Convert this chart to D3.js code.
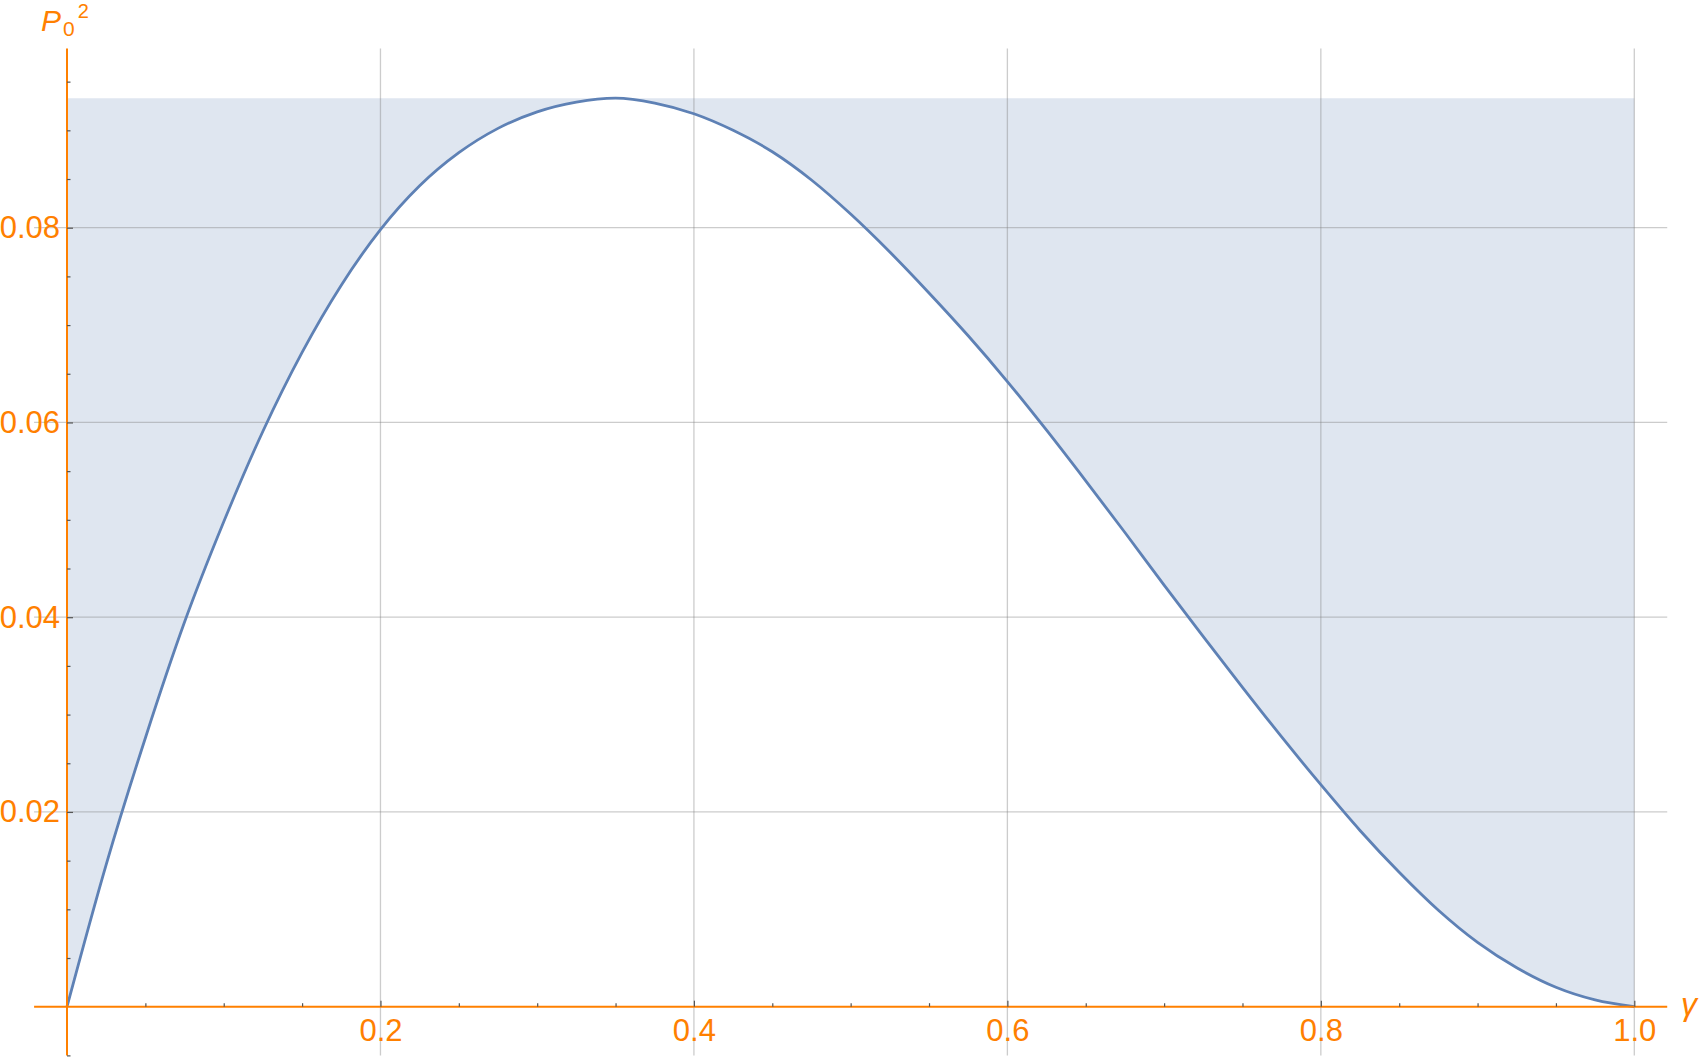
<!DOCTYPE html>
<html>
<head>
<meta charset="utf-8">
<script src="https://cdn.jsdelivr.net/npm/d3@7"></script>
<style>
  body { margin: 0; background: #fff; }
  svg { display: block; }
</style>
</head>
<body>
<script>
// Data
//////////////////////////////////////////////////////////////////////
var gamma = [0, 0.025, 0.05, 0.075, 0.1, 0.125, 0.15, 0.175, 0.2, 0.225,
  0.25, 0.275, 0.3, 0.325, 0.35, 0.375, 0.4, 0.425, 0.45, 0.475,
  0.5, 0.525, 0.55, 0.575, 0.6, 0.625, 0.65, 0.675, 0.7, 0.725,
  0.75, 0.775, 0.8, 0.825, 0.85, 0.875, 0.9, 0.925, 0.95, 0.975, 1.0];
var p0sq = [0, 0.0146, 0.0276, 0.0395, 0.0498, 0.0591, 0.0672, 0.0741, 0.0798, 0.0843,
  0.0877, 0.0902, 0.0919, 0.0929, 0.0933, 0.0928, 0.0917, 0.0900, 0.0878, 0.0849,
  0.0814, 0.0775, 0.0733, 0.0689, 0.0642, 0.0592, 0.0540, 0.0487, 0.0433, 0.0380,
  0.0328, 0.0277, 0.0228, 0.0181, 0.0138, 0.0099, 0.0066, 0.0040, 0.0020, 0.0007, 0];
var xTicks = [0.2, 0.4, 0.6, 0.8, 1.0];
var xTickLabels = ["0.2", "0.4", "0.6", "0.8", "1.0"];
var yTicks = [0.02, 0.04, 0.06, 0.08];
var yTickLabels = ["0.02", "0.04", "0.06", "0.08"];

// Variables
//////////////////////////////////////////////////////////////////////
var width = 1700, height = 1059;
var orange = "#ff8000";
var lineColor = "#5e81b5";
var tickColor = "#555";
var fontFamily = "'Liberation Sans', Arial, sans-serif";
var labelSize = 31;

var x = d3.scaleLinear().domain([0, 1]).range([67, 1634.3]);
var y = d3.scaleLinear().domain([0, 0.08]).range([1006.7, 227.7]);

var xExtent = [-0.021, 1.021];
var yExtent = [-0.005, 0.0984];
var xMinor = d3.range(0.05, 1.001, 0.05).filter(t => Math.abs(t / 0.2 - Math.round(t / 0.2)) > 1e-6);
var yMinor = d3.range(-0.005, 0.0951, 0.005).filter(t => Math.abs(t / 0.02 - Math.round(t / 0.02)) > 1e-6);

var points = gamma.map((g, i) => [g, p0sq[i]]);
var yMax = d3.max(p0sq);

// Draw
//////////////////////////////////////////////////////////////////////
var svg = d3.select("body").append("svg")
  .attr("width", width)
  .attr("height", height)
  .attr("font-family", fontFamily);

// filling between curve and top of the plot range
var area = d3.area()
  .curve(d3.curveMonotoneX)
  .x(d => x(d[0]))
  .y0(y(yMax))
  .y1(d => y(d[1]));

svg.append("path")
  .datum(points)
  .attr("fill", lineColor)
  .attr("fill-opacity", 0.2)
  .attr("d", area);

// grid
var grid = svg.append("g")
  .attr("stroke", "#808080")
  .attr("stroke-opacity", 0.4)
  .attr("stroke-width", 1.3);

grid.selectAll(".gx")
  .data(xTicks)
  .join("line")
  .attr("x1", d => x(d)).attr("x2", d => x(d))
  .attr("y1", y(yExtent[1])).attr("y2", y(yExtent[0]));

grid.selectAll(".gy")
  .data(yTicks)
  .join("line")
  .attr("y1", d => y(d)).attr("y2", d => y(d))
  .attr("x1", x(xExtent[0])).attr("x2", x(xExtent[1]));

// curve
var line = d3.line()
  .curve(d3.curveMonotoneX)
  .x(d => x(d[0]))
  .y(d => y(d[1]));

svg.append("path")
  .datum(points)
  .attr("fill", "none")
  .attr("stroke", lineColor)
  .attr("stroke-width", 2.8)
  .attr("stroke-linejoin", "round")
  .attr("d", line);

// axes lines
svg.append("line")
  .attr("x1", x(xExtent[0])).attr("x2", x(xExtent[1]))
  .attr("y1", y(0)).attr("y2", y(0))
  .attr("stroke", orange).attr("stroke-width", 2);

svg.append("line")
  .attr("x1", x(0)).attr("x2", x(0))
  .attr("y1", y(yExtent[0])).attr("y2", y(yExtent[1]))
  .attr("stroke", orange).attr("stroke-width", 2);

// ticks (inside) + labels (outside)
var xAxis = svg.append("g")
  .attr("transform", `translate(0,${y(0)})`)
  .call(d3.axisBottom(x).tickValues(xTicks).tickSize(-6).tickPadding(12)
    .tickFormat((d, i) => xTickLabels[i]));

var yAxis = svg.append("g")
  .attr("transform", `translate(${x(0)},0)`)
  .call(d3.axisLeft(y).tickValues(yTicks).tickSize(-6).tickPadding(7)
    .tickFormat((d, i) => yTickLabels[i]));

var xMinorAxis = svg.append("g")
  .attr("transform", `translate(0,${y(0)})`)
  .call(d3.axisBottom(x).tickValues(xMinor).tickSize(-3.5).tickFormat(""));

var yMinorAxis = svg.append("g")
  .attr("transform", `translate(${x(0)},0)`)
  .call(d3.axisLeft(y).tickValues(yMinor).tickSize(-3.5).tickFormat(""));

[xAxis, yAxis, xMinorAxis, yMinorAxis].forEach(g => {
  g.select(".domain").remove();
  g.selectAll(".tick line").attr("stroke", tickColor).attr("stroke-width", 1.2);
  g.selectAll(".tick text")
    .attr("fill", orange)
    .attr("font-size", labelSize)
    .attr("font-family", fontFamily);
});
xAxis.selectAll(".tick text").attr("dy", "0.71em");

// axis labels
svg.append("text")
  .attr("x", 1681)
  .attr("y", 1015)
  .attr("fill", orange)
  .attr("font-size", 32)
  .attr("font-style", "italic")
  .text("γ");

var ylab = svg.append("text")
  .attr("x", 41)
  .attr("y", 31)
  .attr("fill", orange)
  .attr("font-size", 30);
ylab.append("tspan").attr("font-style", "italic").text("P");
ylab.append("tspan").attr("font-size", 21).attr("dx", 2).attr("dy", 5).text("0");
ylab.append("tspan").attr("font-size", 20).attr("dx", 3).attr("dy", -18).text("2");
</script>
</body>
</html>
